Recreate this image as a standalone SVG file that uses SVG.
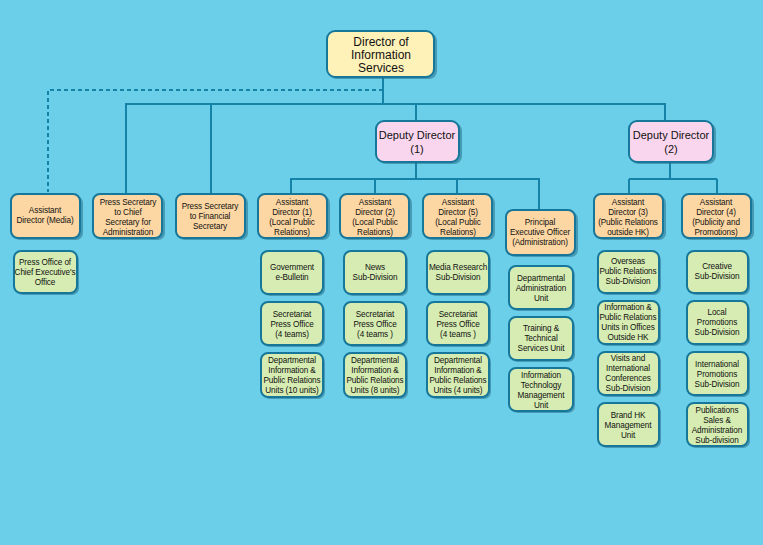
<svg xmlns="http://www.w3.org/2000/svg" width="763" height="545" viewBox="0 0 763 545">
<defs><style>
.b{stroke:#16779a;stroke-width:2}
.o{fill:#fdd7a3}.g{fill:#d6ecb2}.y{fill:#fff2b9}.p{fill:#fad6ee}
.sh{fill:#2a6f88;opacity:.55}
text{font-family:"Liberation Sans",Arial,sans-serif;font-size:8.2px;letter-spacing:-0.1px;fill:#111;text-anchor:middle}
.L{font-size:12px;letter-spacing:0}.M{font-size:11px;letter-spacing:0}
#c line,#c path{stroke:#1583a8;stroke-width:2;fill:none}
</style></defs>
<rect width="763" height="545" fill="#6ccfe9"/>
<g id="c">
<path d="M383 77V104M383 90H48V192" stroke-dasharray="4 3"/>
<line x1="383" y1="77" x2="383" y2="104"/>
<path d="M126 194V104H665V121M211 104V194M416 104V121"/>
<path d="M416 162V179M291 194V179H539V210M375 179V194M457 179V194"/>
<path d="M670 162V179M629 179H717M629 179V194M717 179V194"/>
</g>
<g id="dir"><rect class="sh" x="329" y="33" width="108" height="46" rx="8"/><rect class="b y" x="327" y="31" width="107" height="46" rx="8"/><text class="L" x="381" y="46">Director of</text><text class="L" x="381" y="59">Information</text><text class="L" x="381" y="72">Services</text></g>
<g id="dd1"><rect class="sh" x="378" y="123" width="84" height="41" rx="8"/><rect class="b p" x="376" y="121" width="83" height="41" rx="8"/><text class="M" x="417" y="139">Deputy Director</text><text class="M" x="417" y="153">(1)</text></g>
<g id="dd2"><rect class="sh" x="631" y="123" width="85" height="41" rx="8"/><rect class="b p" x="629" y="121" width="84" height="41" rx="8"/><text class="M" x="671" y="139">Deputy Director</text><text class="M" x="671" y="153">(2)</text></g>
<g id="adm"><rect class="sh" x="13" y="196" width="70" height="44" rx="7"/><rect class="b o" x="11" y="194" width="69" height="44" rx="7"/><text x="45" y="213">Assistant</text><text x="45" y="223">Director (Media)</text></g>
<g id="pscs"><rect class="sh" x="95" y="196" width="70" height="44" rx="7"/><rect class="b o" x="93" y="194" width="69" height="44" rx="7"/><text x="128" y="205">Press Secretary</text><text x="128" y="215">to Chief</text><text x="128" y="225">Secretary for</text><text x="128" y="235">Administration</text></g>
<g id="psfs"><rect class="sh" x="178" y="196" width="70" height="44" rx="7"/><rect class="b o" x="176" y="194" width="69" height="44" rx="7"/><text x="210" y="209">Press Secretary</text><text x="210" y="219">to Financial</text><text x="210" y="229">Secretary</text></g>
<g id="ad1"><rect class="sh" x="260" y="196" width="70" height="44" rx="7"/><rect class="b o" x="258" y="194" width="69" height="44" rx="7"/><text x="292" y="205">Assistant</text><text x="292" y="215">Director (1)</text><text x="292" y="225">(Local Public</text><text x="292" y="235">Relations)</text></g>
<g id="ad2"><rect class="sh" x="342" y="196" width="70" height="44" rx="7"/><rect class="b o" x="340" y="194" width="69" height="44" rx="7"/><text x="375" y="205">Assistant</text><text x="375" y="215">Director (2)</text><text x="375" y="225">(Local Public</text><text x="375" y="235">Relations)</text></g>
<g id="ad5"><rect class="sh" x="425" y="196" width="70" height="44" rx="7"/><rect class="b o" x="423" y="194" width="69" height="44" rx="7"/><text x="458" y="205">Assistant</text><text x="458" y="215">Director (5)</text><text x="458" y="225">(Local Public</text><text x="458" y="235">Relations)</text></g>
<g id="peo"><rect class="sh" x="508" y="212" width="70" height="45" rx="7"/><rect class="b o" x="506" y="210" width="69" height="45" rx="7"/><text x="540" y="225">Principal</text><text x="540" y="235">Executive Officer</text><text x="540" y="245">(Administration)</text></g>
<g id="ad3"><rect class="sh" x="596" y="196" width="70" height="44" rx="7"/><rect class="b o" x="594" y="194" width="69" height="44" rx="7"/><text x="628" y="205">Assistant</text><text x="628" y="215">Director (3)</text><text x="628" y="225">(Public Relations</text><text x="628" y="235">outside HK)</text></g>
<g id="ad4"><rect class="sh" x="684" y="196" width="70" height="44" rx="7"/><rect class="b o" x="682" y="194" width="69" height="44" rx="7"/><text x="716" y="205">Assistant</text><text x="716" y="215">Director (4)</text><text x="716" y="225">(Publicity and</text><text x="716" y="235">Promotions)</text></g>
<g id="pceo"><rect class="sh" x="16" y="253" width="63" height="42" rx="7"/><rect class="b g" x="14" y="251" width="63" height="42" rx="7"/><text x="45" y="265">Press Office of</text><text x="45" y="275">Chief Executive's</text><text x="45" y="285">Office</text></g>
<g id="geb"><rect class="sh" x="263" y="253" width="62" height="43" rx="7"/><rect class="b g" x="261" y="251" width="62" height="43" rx="7"/><text x="292" y="270">Government</text><text x="292" y="280">e-Bulletin</text></g>
<g id="news"><rect class="sh" x="346" y="253" width="62" height="43" rx="7"/><rect class="b g" x="344" y="251" width="62" height="43" rx="7"/><text x="375" y="270">News</text><text x="375" y="280">Sub-Division</text></g>
<g id="mr"><rect class="sh" x="429" y="253" width="62" height="43" rx="7"/><rect class="b g" x="427" y="251" width="62" height="43" rx="7"/><text x="458" y="270">Media Research</text><text x="458" y="280">Sub-Division</text></g>
<g id="sp1"><rect class="sh" x="263" y="304" width="62" height="43" rx="7"/><rect class="b g" x="261" y="302" width="62" height="43" rx="7"/><text x="292" y="317">Secretariat</text><text x="292" y="327">Press Office</text><text x="292" y="337">(4 teams)</text></g>
<g id="sp2"><rect class="sh" x="346" y="304" width="62" height="43" rx="7"/><rect class="b g" x="344" y="302" width="62" height="43" rx="7"/><text x="375" y="317">Secretariat</text><text x="375" y="327">Press Office</text><text x="375" y="337">(4 teams )</text></g>
<g id="sp5"><rect class="sh" x="429" y="304" width="62" height="43" rx="7"/><rect class="b g" x="427" y="302" width="62" height="43" rx="7"/><text x="458" y="317">Secretariat</text><text x="458" y="327">Press Office</text><text x="458" y="337">(4 teams )</text></g>
<g id="dp1"><rect class="sh" x="263" y="355" width="62" height="44" rx="7"/><rect class="b g" x="261" y="353" width="62" height="44" rx="7"/><text x="292" y="363">Departmental</text><text x="292" y="373">Information &amp;</text><text x="292" y="383">Public Relations</text><text x="292" y="393">Units (10 units)</text></g>
<g id="dp2"><rect class="sh" x="346" y="355" width="62" height="44" rx="7"/><rect class="b g" x="344" y="353" width="62" height="44" rx="7"/><text x="375" y="363">Departmental</text><text x="375" y="373">Information &amp;</text><text x="375" y="383">Public Relations</text><text x="375" y="393">Units (8 units)</text></g>
<g id="dp5"><rect class="sh" x="429" y="355" width="62" height="44" rx="7"/><rect class="b g" x="427" y="353" width="62" height="44" rx="7"/><text x="458" y="363">Departmental</text><text x="458" y="373">Information &amp;</text><text x="458" y="383">Public Relations</text><text x="458" y="393">Units (4 units)</text></g>
<g id="dau"><rect class="sh" x="511" y="268" width="64" height="43" rx="7"/><rect class="b g" x="509" y="266" width="64" height="43" rx="7"/><text x="541" y="281">Departmental</text><text x="541" y="291">Administration</text><text x="541" y="301">Unit</text></g>
<g id="tts"><rect class="sh" x="511" y="319" width="64" height="43" rx="7"/><rect class="b g" x="509" y="317" width="64" height="43" rx="7"/><text x="541" y="331">Training &amp;</text><text x="541" y="341">Technical</text><text x="541" y="351">Services Unit</text></g>
<g id="itm"><rect class="sh" x="511" y="370" width="64" height="43" rx="7"/><rect class="b g" x="509" y="368" width="64" height="43" rx="7"/><text x="541" y="378">Information</text><text x="541" y="388">Technology</text><text x="541" y="398">Management</text><text x="541" y="408">Unit</text></g>
<g id="ops"><rect class="sh" x="600" y="253" width="61" height="42" rx="7"/><rect class="b g" x="598" y="251" width="61" height="42" rx="7"/><text x="628" y="264">Overseas</text><text x="628" y="274">Public Relations</text><text x="628" y="284">Sub-Division</text></g>
<g id="ipr"><rect class="sh" x="600" y="303" width="61" height="43" rx="7"/><rect class="b g" x="598" y="301" width="61" height="43" rx="7"/><text x="628" y="310">Information &amp;</text><text x="628" y="320">Public Relations</text><text x="628" y="330">Units in Offices</text><text x="628" y="340">Outside HK</text></g>
<g id="vic"><rect class="sh" x="600" y="354" width="61" height="43" rx="7"/><rect class="b g" x="598" y="352" width="61" height="43" rx="7"/><text x="628" y="361">Visits and</text><text x="628" y="371">International</text><text x="628" y="381">Conferences</text><text x="628" y="391">Sub-Division</text></g>
<g id="bhk"><rect class="sh" x="600" y="405" width="61" height="43" rx="7"/><rect class="b g" x="598" y="403" width="61" height="43" rx="7"/><text x="628" y="418">Brand HK</text><text x="628" y="428">Management</text><text x="628" y="438">Unit</text></g>
<g id="cre"><rect class="sh" x="689" y="253" width="61" height="42" rx="7"/><rect class="b g" x="687" y="251" width="61" height="42" rx="7"/><text x="717" y="269">Creative</text><text x="717" y="279">Sub-Division</text></g>
<g id="lps"><rect class="sh" x="689" y="303" width="61" height="43" rx="7"/><rect class="b g" x="687" y="301" width="61" height="43" rx="7"/><text x="717" y="315">Local</text><text x="717" y="325">Promotions</text><text x="717" y="335">Sub-Division</text></g>
<g id="ips"><rect class="sh" x="689" y="354" width="61" height="43" rx="7"/><rect class="b g" x="687" y="352" width="61" height="43" rx="7"/><text x="717" y="367">International</text><text x="717" y="377">Promotions</text><text x="717" y="387">Sub-Division</text></g>
<g id="psa"><rect class="sh" x="689" y="405" width="61" height="43" rx="7"/><rect class="b g" x="687" y="403" width="61" height="43" rx="7"/><text x="717" y="413">Publications</text><text x="717" y="423">Sales &amp;</text><text x="717" y="433">Administration</text><text x="717" y="443">Sub-division</text></g>
</svg>
